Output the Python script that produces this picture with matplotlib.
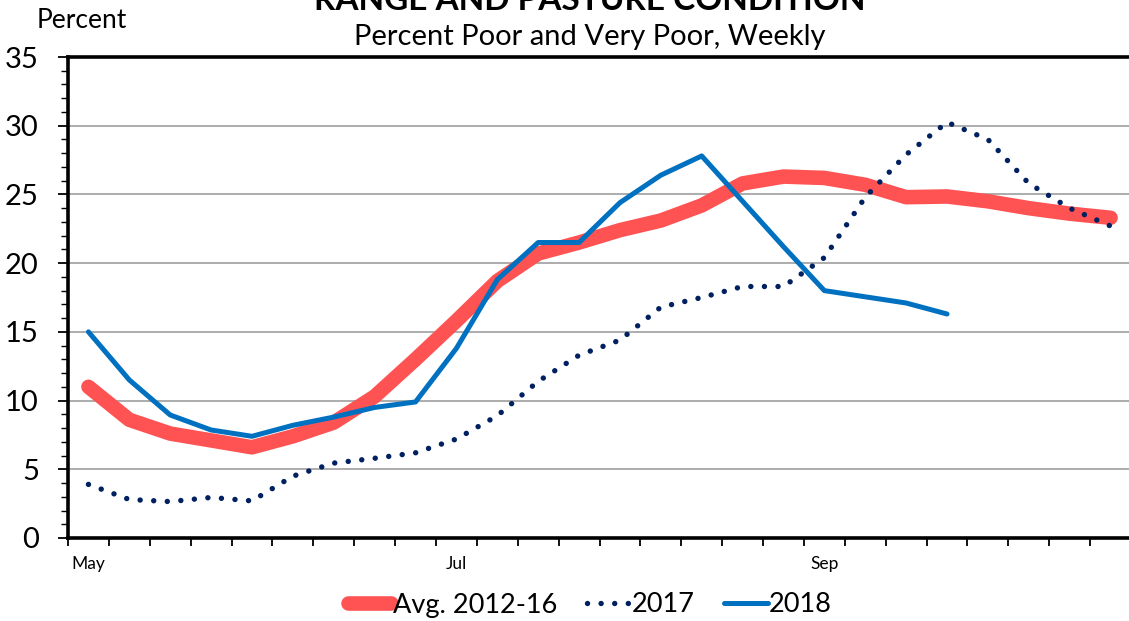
import numpy as np
import matplotlib.pyplot as plt
from matplotlib.lines import Line2D

plt.rcParams['font.family'] = ['Lato', 'DejaVu Sans']

# Weekly categories (26 weeks starting early May)
weeks = np.arange(26)
month_labels = ['May', 'Jul', 'Sep']
month_pos = [0, 9, 18]

avg_1216 = [11.0, 8.6, 7.6, 7.1, 6.6, 7.4, 8.4, 10.3, 13.0, 15.8, 18.7, 20.7, 21.5,
            22.4, 23.1, 24.2, 25.8, 26.3, 26.2, 25.7, 24.8, 24.85, 24.5, 24.0, 23.6, 23.3]
y2017 = [3.9, 2.8, 2.65, 2.95, 2.7, 4.5, 5.45, 5.8, 6.2, 7.2, 8.9, 11.4, 13.3,
         14.4, 16.8, 17.5, 18.3, 18.3, 20.4, 24.8, 27.9, 30.25, 29.0, 25.8, 24.0, 22.7]
y2018 = [15.0, 11.5, 8.95, 7.86, 7.4, 8.2, 8.8, 9.5, 9.9, 13.8, 18.8, 21.5, 21.5,
         24.4, 26.4, 27.8, 24.5, 21.2, 18.0, 17.55, 17.1, 16.3]

red = '#FF5252'
navy = '#002060'
blue = '#0070C0'
dots = (0, (0.01, 2.5))

fig = plt.figure(figsize=(11.29, 6.21), dpi=100)
ax = fig.add_axes([68/1129, 83/621, 1063/1129, 481/621])

ax.plot(weeks, avg_1216, color=red, lw=10.5, solid_capstyle='round', solid_joinstyle='round', zorder=2)
ax.plot(weeks, y2017, color=navy, lw=3.9, linestyle=dots, dash_capstyle='round', zorder=3)
ax.plot(weeks[:len(y2018)], y2018, color=blue, lw=3.6, solid_capstyle='round', zorder=4)

ax.set_xlim(-0.5, 25.5)
ax.set_ylim(0, 35)

# gridlines
for v in range(5, 35, 5):
    ax.axhline(v, color='#A6A6A6', lw=1.3, zorder=1)
ax.axhline(35, color='black', lw=2.6, zorder=1, clip_on=False)

for s in ['top', 'right']:
    ax.spines[s].set_visible(False)
for s in ['left', 'bottom']:
    ax.spines[s].set_linewidth(2.6)

ax.set_yticks(range(0, 36, 5))
ax.set_yticks(range(0, 36), minor=True)
ax.tick_params(axis='y', which='major', length=7, width=1.3, labelsize=21, pad=14)
ax.tick_params(axis='y', which='minor', length=5, width=1.0)

ax.set_xticks(np.arange(-0.5, 26, 1))
ax.set_xticklabels([])
ax.tick_params(axis='x', which='major', length=6, width=1.3)
ax.set_xticks(month_pos, minor=True)
ax.set_xticklabels(month_labels, minor=True)
ax.tick_params(axis='x', which='minor', length=0, labelsize=12.5, pad=13)

fig.text(37/1129, 1 - 20/621, 'Percent', fontsize=19, va='center', ha='left')
fig.text(590/1129, 1 - 1/621, 'RANGE AND PASTURE CONDITION', fontsize=24, fontweight='bold',
         ha='center', va='center')
fig.text(590/1129, 1 - 37/621, 'Percent Poor and Very Poor, Weekly', fontsize=21,
         ha='center', va='center')

handles = [Line2D([], [], color=red, lw=10.5, solid_capstyle='round'),
           Line2D([], [], color=navy, lw=3.9, linestyle=dots, dash_capstyle='round'),
           Line2D([], [], color=blue, lw=3.6, solid_capstyle='round')]
fig.legend(handles, ['Avg. 2012-16', '2017', '2018'], loc='center', bbox_to_anchor=(590/1129, 1 - 605/621),
           ncol=3, frameon=False, fontsize=19.5, handlelength=1.6, handletextpad=0.05,
           columnspacing=1.1)

fig.savefig('out.png', dpi=100)
